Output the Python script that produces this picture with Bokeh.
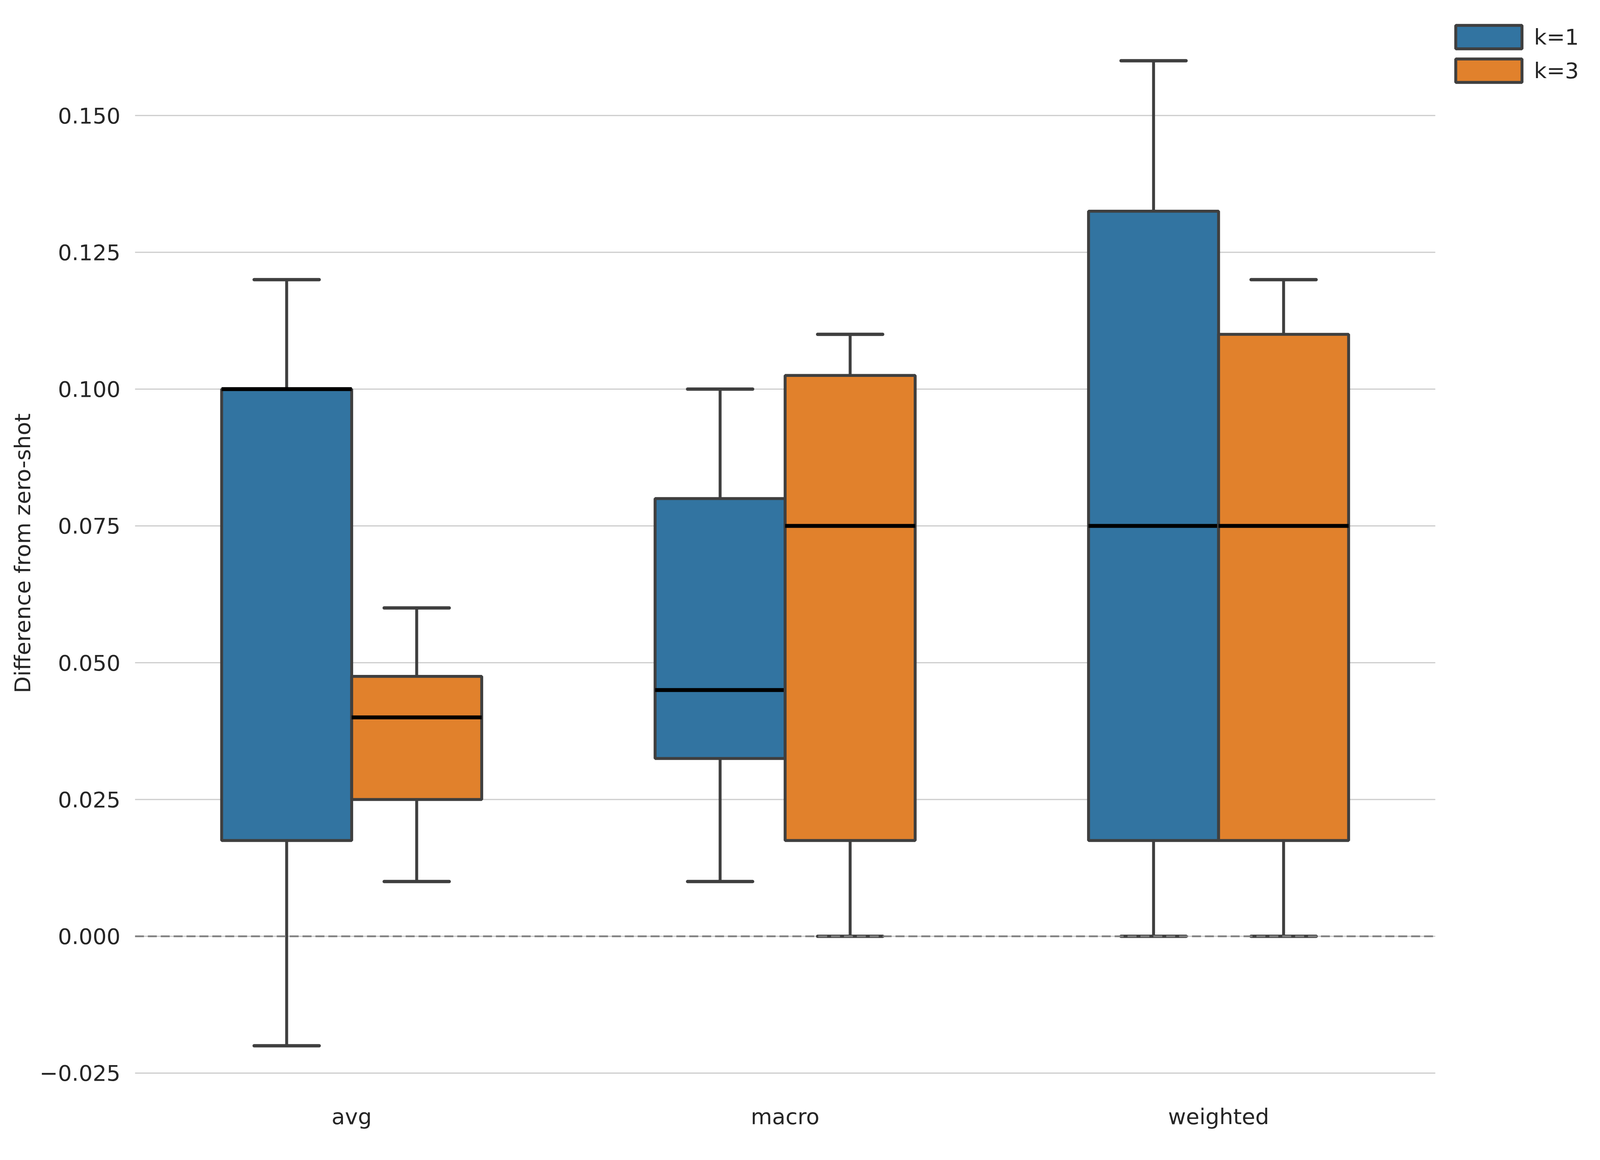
from bokeh.plotting import figure
from bokeh.models import (ColumnDataSource, Range1d, FixedTicker,
                          CustomJSTickFormatter, Legend, LegendItem)
from bokeh.transform import dodge
from bokeh.embed import file_html
from bokeh.resources import INLINE

# ---------------- data ----------------
categories = ["avg", "macro", "weighted"]

k1_low = [-0.02, 0.01, 0.0]
k1_q1 = [0.0175, 0.0325, 0.0175]
k1_med = [0.1, 0.045, 0.075]
k1_q3 = [0.1, 0.08, 0.1325]
k1_high = [0.12, 0.10, 0.16]

k3_low = [0.01, 0.0, 0.0]
k3_q1 = [0.025, 0.0175, 0.0175]
k3_med = [0.04, 0.075, 0.075]
k3_q3 = [0.0475, 0.1025, 0.11]
k3_high = [0.06, 0.11, 0.12]

y_ticks = [-0.025, 0.0, 0.025, 0.05, 0.075, 0.1, 0.125, 0.15]
series_labels = ["k=1", "k=3"]
reference_value = 0.0

# ---------------- styles ----------------
FONT = "DejaVu Sans"
TXT = "#262626"
EDGE = "#3f3f3f"
COLORS = ["#3274a1", "#e1812c"]
FS = "56px"

x_pos = list(range(len(categories)))
x_lo, x_hi = -0.5, len(categories) - 0.5

# frame runs past the last category so the legend can sit at its right
p = figure(width=4075, height=2895,
           x_range=Range1d(x_lo, x_hi + 0.357),
           y_range=Range1d(-0.029, 0.169),
           output_backend="svg", toolbar_location=None,
           min_border_left=345, min_border_right=5,
           min_border_top=29, min_border_bottom=92)
p.outline_line_color = None
p.background_fill_color = "white"
p.border_fill_color = "white"
p.xgrid.grid_line_color = None
p.ygrid.grid_line_color = None

# horizontal grid lines limited to the category span
grid_src = ColumnDataSource(dict(y=y_ticks, x0=[x_lo] * len(y_ticks), x1=[x_hi] * len(y_ticks)))
p.segment(x0="x0", x1="x1", y0="y", y1="y", source=grid_src,
          line_color="#cccccc", line_width=3)

series = [
    (k1_low, k1_q1, k1_med, k1_q3, k1_high, -0.15),
    (k3_low, k3_q1, k3_med, k3_q3, k3_high, 0.15),
]

legend_items = []
for i, (lo, q1, med, q3, hi, off) in enumerate(series):
    src = ColumnDataSource(dict(x=x_pos, lo=lo, q1=q1, med=med, q3=q3, hi=hi))
    xc = dodge("x", off)
    # whiskers
    p.segment(x0=xc, x1=xc, y0="q3", y1="hi", source=src,
              line_color=EDGE, line_width=7.5)
    p.segment(x0=xc, x1=xc, y0="lo", y1="q1", source=src,
              line_color=EDGE, line_width=7.5)
    # caps
    p.segment(x0=dodge("x", off - 0.075), x1=dodge("x", off + 0.075),
              y0="hi", y1="hi", source=src, line_color=EDGE, line_width=8.5,
              line_cap="round")
    p.segment(x0=dodge("x", off - 0.075), x1=dodge("x", off + 0.075),
              y0="lo", y1="lo", source=src, line_color=EDGE, line_width=8.5,
              line_cap="round")
    # box
    box = p.vbar(x=xc, width=0.3, top="q3", bottom="q1", source=src,
                 fill_color=COLORS[i], line_color=EDGE, line_width=7.5)
    # median
    p.segment(x0=dodge("x", off - 0.15), x1=dodge("x", off + 0.15),
              y0="med", y1="med", source=src, line_color="black", line_width=10)
    legend_items.append(LegendItem(label=series_labels[i], renderers=[box], index=0))

# zero reference line (dashed, on top)
p.segment(x0=[x_lo], x1=[x_hi], y0=[reference_value], y1=[reference_value],
          line_color="#808080", line_width=4.5, line_dash="23 10")

# axes
p.xaxis.ticker = FixedTicker(ticks=x_pos)
p.xaxis.major_label_overrides = {xp: c for xp, c in zip(x_pos, categories)}
p.yaxis.ticker = FixedTicker(ticks=y_ticks)
p.yaxis.formatter = CustomJSTickFormatter(code="""
    return (tick < -1e-9 ? "\u2212" : "") + Math.abs(tick).toFixed(3);
""")
for ax in (p.xaxis[0], p.yaxis[0]):
    ax.axis_line_color = None
    ax.major_tick_line_color = None
    ax.minor_tick_line_color = None
    ax.major_tick_out = 0
    ax.major_tick_in = 0
    ax.minor_tick_out = 0
    ax.major_label_text_font = FONT
    ax.major_label_text_font_size = FS
    ax.major_label_text_color = TXT
    ax.axis_label_text_font = FONT
    ax.axis_label_text_font_size = FS
    ax.axis_label_text_font_style = "normal"
    ax.axis_label_text_color = TXT

p.yaxis.major_label_standoff = 37
p.xaxis.major_label_standoff = 22
p.yaxis.axis_label = "Difference from zero-shot"
p.yaxis.axis_label_standoff = 8

legend = Legend(items=legend_items, location="top_right",
                glyph_width=212, glyph_height=75, spacing=11,
                label_standoff=10, padding=0, margin=28,
                border_line_color=None, background_fill_alpha=0,
                label_text_font=FONT, label_text_font_size=FS,
                label_text_color=TXT, label_height=60)
p.add_layout(legend, "center")

open("out.html", "w").write(file_html(p, INLINE))
